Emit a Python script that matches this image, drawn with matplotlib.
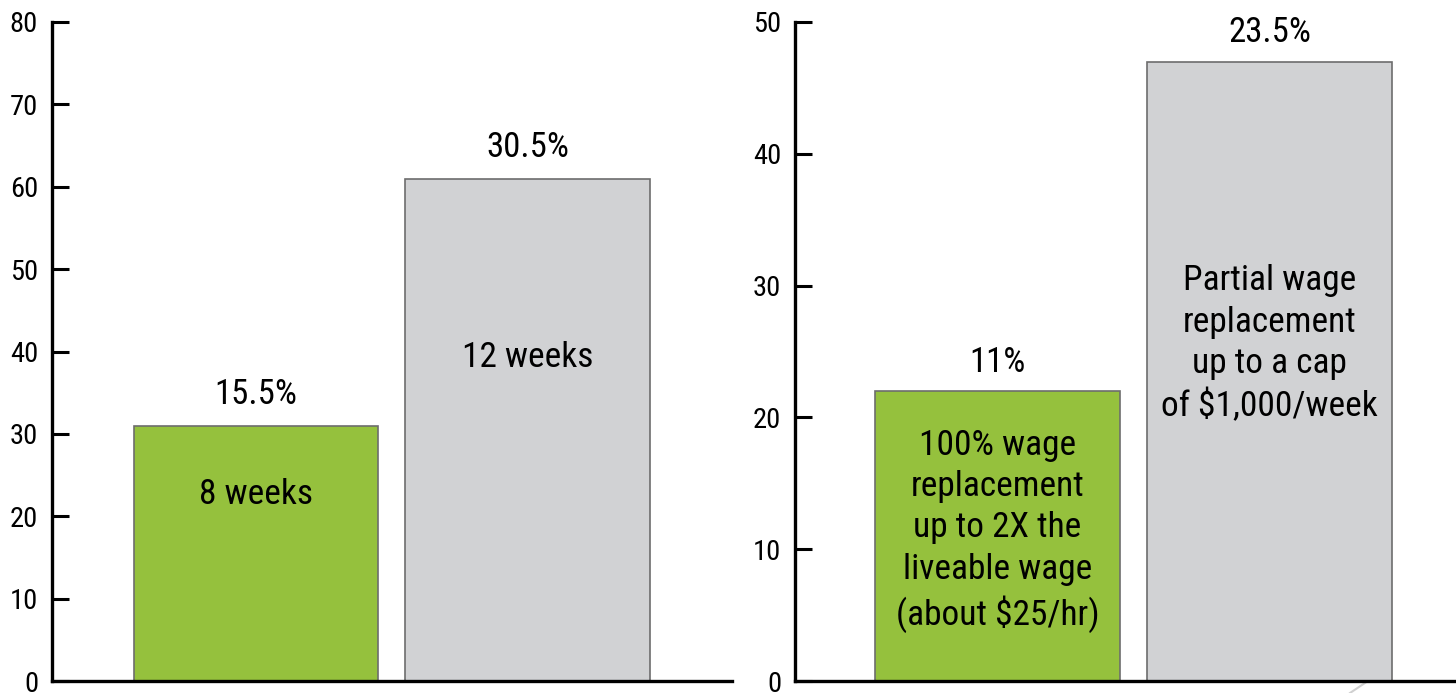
import matplotlib
matplotlib.use("Agg")
import matplotlib.pyplot as plt
from matplotlib.lines import Line2D
from matplotlib import font_manager

# ---- data ----
left_values = [31, 61]
left_top_labels = ["15.5%", "30.5%"]
left_inner_labels = ["8 weeks", "12 weeks"]
left_inner_y = [22.6, 39.3]
left_ticks = [0, 10, 20, 30, 40, 50, 60, 70, 80]

right_values = [22, 47]
right_top_labels = ["11%", "23.5%"]
right_inner_labels = ["100% wage\nreplacement\nup to 2X the\nliveable wage\n(about $25/hr)",
                      "Partial wage\nreplacement\nup to a cap\nof $1,000/week"]
right_inner_y = [11.4, 25.6]
right_ticks = [0, 10, 20, 30, 40, 50]

colors = ["#95C13D", "#D1D2D4"]

names = {f.name for f in font_manager.fontManager.ttflist}
chosen = "DejaVu Sans"
for cand in ["Roboto Condensed", "Archivo Narrow", "Barlow Semi Condensed", "Fira Sans Condensed"]:
    if cand in names:
        chosen = cand
        break
plt.rcParams['font.family'] = [chosen, "DejaVu Sans"]

W, H = 1456, 693
fig = plt.figure(figsize=(W / 100, H / 100), dpi=100)

def make_panel(rect, values, top_labels, inner_labels, inner_y, ticks, xlim, top_off):
    ax = fig.add_axes(rect)
    x = list(range(len(values)))
    ax.bar(x, values, width=0.9, color=colors, edgecolor="#6d6d6d", linewidth=1.2, zorder=2)
    ax.set_xlim(*xlim)
    ax.set_ylim(ticks[0], ticks[-1])
    ax.set_yticks(ticks)
    ax.set_xticks([])
    for s in ["top", "right"]:
        ax.spines[s].set_visible(False)
    for s in ["left", "bottom"]:
        ax.spines[s].set_linewidth(2.4)
        ax.spines[s].set_zorder(3)
    ax.tick_params(axis="y", direction="in", length=12, width=2.2, labelsize=20.5, pad=10)
    for xi, v, lab in zip(x, values, top_labels):
        ax.text(xi, v + top_off, lab, ha="center", va="center", fontsize=25)
    for xi, yy, lab in zip(x, inner_y, inner_labels):
        ax.text(xi, yy, lab, ha="center", va="center", fontsize=25.5, linespacing=1.32)
    return ax

make_panel([52 / W, 1 - 681 / H, (732 - 52) / W, 659 / H], left_values, left_top_labels,
           left_inner_labels, left_inner_y, left_ticks, (-0.751, 1.753), 3.8)
make_panel([795 / W, 1 - 681 / H, (W - 795) / W, 659 / H], right_values, right_top_labels,
           right_inner_labels, right_inner_y, right_ticks, (-0.744, 1.686), 2.2)

# decorative diagonal line at bottom-right
fig.add_artist(Line2D([1350 / W, 1.0], [0.0, 1 - 622 / H], transform=fig.transFigure,
                      color="#d0d0d0", linewidth=1.5, zorder=0))

fig.savefig("out.png", dpi=100)
